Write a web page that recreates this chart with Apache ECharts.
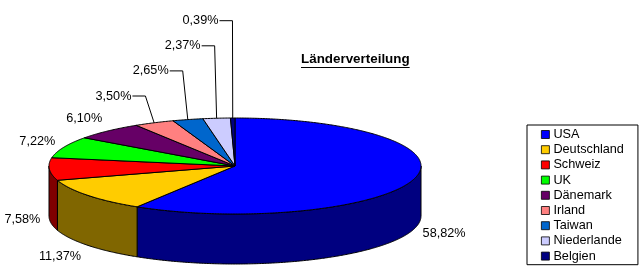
<!DOCTYPE html>
<html>
<head>
<meta charset="utf-8">
<script src="https://cdn.jsdelivr.net/npm/echarts@6/dist/echarts.min.js"></script>
<style>html,body{margin:0;padding:0;background:#fff}#c{width:644px;height:275px}</style>
</head>
<body>
<div id="c"></div>
<script>
const categories = ['USA','Deutschland','Schweiz','UK','Dänemark','Irland','Taiwan','Niederlande','Belgien'];
const shares = [58.82, 11.37, 7.58, 7.22, 6.10, 3.50, 2.65, 2.37, 0.39];
const colors = ['#0000FF','#FFCC00','#FF0000','#00FF00','#660066','#FF8080','#0066CC','#CCCCFF','#000080'];
const titleText = 'Länderverteilung';

const FONT = '"Liberation Sans", Arial, sans-serif';
const FS = 12.7;
const G = {cx: 235, cy: 166, a: 186, b: 48, depth: 50};

const total = shares.reduce((s, v) => s + v, 0);
const starts = [];
let acc = 0;
shares.forEach(v => { starts.push(acc); acc += v; });
const ang = p => p / total * 2 * Math.PI;
const mid = i => ang(starts[i] + shares[i] / 2);

const cvs = document.createElement('canvas').getContext('2d');
function textW(str, font) { cvs.font = font; return cvs.measureText(str).width; }

function dark(hex) {
  const n = parseInt(hex.slice(1), 16);
  const r = (n >> 16) & 255, g = (n >> 8) & 255, b = n & 255;
  return 'rgb(' + Math.round(r / 2) + ',' + Math.round(g / 2) + ',' + Math.round(b / 2) + ')';
}

// small back slices get stacked labels with leader lines
const leaderIdx = shares.map((v, i) => i)
  .filter(i => shares[i] < 5 && Math.cos(mid(i)) > 0)
  .sort((p, q) => mid(q) - mid(p));
const row = {};
leaderIdx.forEach((i, k) => { row[i] = k; });

const P = (t, dy) => [G.cx + G.a * Math.sin(t), G.cy - G.b * Math.cos(t) + (dy || 0)];
function arc(from, to, dy) {
  const n = Math.max(2, Math.ceil(Math.abs(to - from) / (Math.PI / 360)));
  const pts = [];
  for (let k = 0; k <= n; k++) pts.push(P(from + (to - from) * k / n, dy));
  return pts;
}

function renderItem(params, api) {
  const i = params.seriesIndex;
  const v = api.value(0), s0 = api.value(1);
  const t0 = ang(s0), t1 = ang(s0 + v);
  const children = [];
  const lo = Math.max(t0, Math.PI / 2), hi = Math.min(t1, 1.5 * Math.PI);
  if (hi > lo) {
    children.push({
      type: 'polygon', z2: 1,
      shape: {points: arc(lo, hi, 0).concat(arc(hi, lo, G.depth))},
      style: {fill: dark(colors[i]), stroke: '#000', lineWidth: 1}
    });
  }
  children.push({
    type: 'polygon', z2: 2,
    shape: {points: [[G.cx, G.cy]].concat(arc(t0, t1, 0))},
    style: {fill: colors[i], stroke: '#000', lineWidth: 1, lineJoin: 'round'}
  });
  const tm = (t0 + t1) / 2, sn = Math.sin(tm), cs = Math.cos(tm);
  const label = v.toFixed(2).replace('.', ',') + '%';
  const font = FS + 'px ' + FONT;
  const Pp = P(tm, cs < 0 ? G.depth : 0);
  if (row[i] !== undefined) {
    const y = 20.7 + 25.1 * row[i];
    const ex = Pp[0] + 20 * sn;
    children.push({
      type: 'polyline', z2: 3,
      shape: {points: [[ex - 13, y], [ex, y], Pp]},
      style: {stroke: '#000', lineWidth: 1, fill: null}
    });
    children.push({
      type: 'text', z2: 4,
      style: {text: label, x: ex - 14, y: y, align: 'right', verticalAlign: 'middle', font: font, fill: '#000'}
    });
  } else {
    let dx = sn, dy = -cs * 0.5;
    const L = Math.hypot(dx, dy); dx /= L; dy /= L;
    const d = 9 + textW(label, font) / 2;
    children.push({
      type: 'text', z2: 4,
      style: {text: label, x: Pp[0] + dx * d, y: Pp[1] + dy * d, align: 'center', verticalAlign: 'middle', font: font, fill: '#000'}
    });
  }
  return {type: 'group', children: children};
}

const titleFont = 'bold 13.4px ' + FONT;
const titleW = textW(titleText, titleFont);

const chart = echarts.init(document.getElementById('c'), null, {renderer: 'canvas'});
chart.setOption({
  animation: false,
  backgroundColor: '#fff',
  graphic: [
    {type: 'text', left: 301, top: 61 - 13.4 / 2 - 1, style: {text: titleText, font: titleFont, fill: '#000'}},
    {type: 'line', shape: {x1: 301, y1: 67.5, x2: 301 + titleW, y2: 67.5}, style: {stroke: '#000', lineWidth: 1}}
  ],
  legend: {
    orient: 'vertical',
    left: 527, top: 125,
    padding: [2.4, 14, 1.5, 14],
    borderColor: '#000', borderWidth: 1,
    icon: 'rect', itemWidth: 8, itemHeight: 8, itemGap: 1,
    itemStyle: {borderColor: '#000', borderWidth: 0.8},
    textStyle: {fontFamily: FONT, fontSize: FS, color: '#000', lineHeight: 14.2, padding: [0, 0, 0, -1]},
    data: categories
  },
  series: categories.map((name, i) => ({
    type: 'custom',
    name: name,
    coordinateSystem: 'none',
    renderItem: renderItem,
    itemStyle: {color: colors[i]},
    data: [[shares[i], starts[i]]]
  }))
});
</script>
</body>
</html>
